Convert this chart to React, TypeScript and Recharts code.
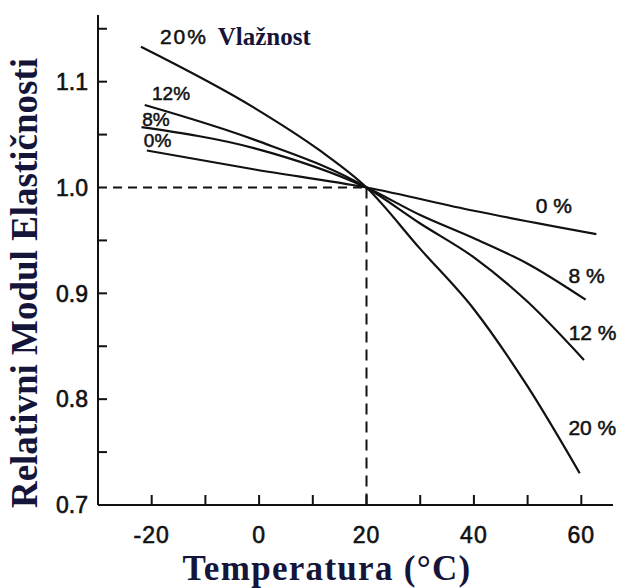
import React from 'react';
import { LineChart, Line, XAxis, YAxis, ReferenceLine, ReferenceDot } from 'recharts';

// Axis ticks
const xTicks = [-20, -10, 0, 10, 20, 30, 40, 50, 60];
const xTickLabels = [-20, 0, 20, 40, 60];
const yTicks = [0.7, 0.75, 0.8, 0.85, 0.9, 0.95, 1.0, 1.05, 1.1, 1.15];
const yTickLabels = [0.7, 0.8, 0.9, 1.0, 1.1];

// Relative modulus of elasticity vs temperature, per moisture content
const moisture0 = [
  { t: -20.9, e: 1.035 }, { t: -0.8, e: 1.017 }, { t: 20, e: 1.0 },
  { t: 40, e: 0.978 }, { t: 62.8, e: 0.956 },
];
const moisture8 = [
  { t: -21.9, e: 1.057 }, { t: -0.8, e: 1.037 }, { t: 20, e: 1.0 },
  { t: 30, e: 0.974 }, { t: 40, e: 0.952 }, { t: 50, e: 0.928 }, { t: 60.8, e: 0.894 },
];
const moisture12 = [
  { t: -21.3, e: 1.078 }, { t: -0.8, e: 1.045 }, { t: 20, e: 1.0 },
  { t: 30, e: 0.966 }, { t: 40, e: 0.934 }, { t: 50, e: 0.892 }, { t: 60.5, e: 0.837 },
];
const moisture20 = [
  { t: -22, e: 1.133 }, { t: -0.8, e: 1.075 }, { t: 11.3, e: 1.035 }, { t: 20, e: 1.0 },
  { t: 30, e: 0.942 }, { t: 40, e: 0.885 }, { t: 50, e: 0.812 }, { t: 59.7, e: 0.730 },
];

// Reference point (20 °C, 1.0)
const refT = 20;
const refE = 1.0;

const X_MIN = -30;
const X_MAX = 65.9;
const Y_MIN = 0.7;
const Y_MAX = 1.163;

const INK = '#111111';
const TITLE = '#15153a';
const SANS = '"Liberation Sans", Arial, sans-serif';
const SERIF = '"Liberation Serif", "Times New Roman", serif';

const XTick = (props: any) => {
  const { x, y, payload } = props;
  const v = payload.value;
  const px = Number(x);
  const py = Number(y);
  const labeled = xTickLabels.includes(v);
  return (
    <g className="xtick">
      <path d={`M${px},${py}L${px},${py - 10}`} stroke={INK} strokeWidth={2} fill="none" />
      {labeled ? (
        <text x={px} y={py + 38} textAnchor="middle" fontFamily={SANS} fontSize={23}
          fill={INK} stroke={INK} strokeWidth={0.6} letterSpacing={1}>
          {v}
        </text>
      ) : null}
    </g>
  );
};

const YTick = (props: any) => {
  const { x, y, payload } = props;
  const v = payload.value;
  const px = Number(x);
  const py = Number(y);
  const labeled = yTickLabels.some((l) => Math.abs(l - v) < 1e-6);
  return (
    <g className="ytick">
      <path d={`M${px},${py}L${px + 9},${py}`} stroke={INK} strokeWidth={2} fill="none" />
      {labeled ? (
        <text x={px - 10} y={py} dy="0.36em" textAnchor="end" fontFamily={SANS} fontSize={23}
          fill={INK} stroke={INK} strokeWidth={0.6}>
          {v.toFixed(1)}
        </text>
      ) : null}
    </g>
  );
};

const txt = (text: string, size: number, opts: any = {}) => (p: any) => {
  const vb = p.viewBox || {};
  const cx = vb.x + (vb.width || 0) / 2;
  const cy = vb.y + (vb.height || 0) / 2;
  return (
    <text x={cx} y={cy} dy="0.36em" textAnchor={opts.anchor || 'middle'} fontFamily={opts.font || SANS}
      fontSize={size} fontWeight={opts.weight || 'normal'} fill={opts.fill || INK}
      stroke={opts.stroke === undefined ? INK : opts.stroke} strokeWidth={opts.sw === undefined ? 0.5 : opts.sw}
      letterSpacing={opts.ls || 0}>
      {text}
    </text>
  );
};

const XTitle = () => (
  <text x={327} y={580} textAnchor="middle" fontFamily={SERIF} fontWeight="bold" fontSize={35}
    letterSpacing={1.3} fill={TITLE}>
    Temperatura (°C)
  </text>
);

const YTitle = () => (
  <text transform="translate(37,283) rotate(-90)" textAnchor="middle" fontFamily={SERIF}
    fontWeight="bold" fontSize={37} fill={TITLE}>
    Relativni Modul Elastičnosti
  </text>
);

const dot = { r: 1, fill: 'none', stroke: 'none' } as any;

export default function App() {
  return (
    <div style={{ position: 'absolute', left: 0, top: 0, width: 622, height: 588, background: '#fff' }}>
      <LineChart width={622} height={588} margin={{ top: 15, right: 9, left: 0, bottom: 0 }}>
        <XAxis type="number" dataKey="t" domain={[X_MIN, X_MAX]} ticks={xTicks} interval={0}
          allowDataOverflow tickSize={0} tickMargin={0} tick={<XTick />} tickLine={false}
          axisLine={{ stroke: INK, strokeWidth: 2 }} height={83} label={{ content: XTitle }} />
        <YAxis type="number" dataKey="e" domain={[Y_MIN, Y_MAX]} ticks={yTicks} interval={0}
          allowDataOverflow tickSize={0} tickMargin={0} tick={<YTick />} tickLine={false}
          axisLine={{ stroke: INK, strokeWidth: 2 }} width={98} label={{ content: YTitle }} />

        <ReferenceLine segment={[{ x: -27.2, y: refE }, { x: refT, y: refE }]} stroke={INK}
          strokeWidth={2} strokeDasharray="9 6" />
        <ReferenceLine segment={[{ x: refT, y: refE }, { x: refT, y: Y_MIN }]} stroke={INK}
          strokeWidth={2} strokeDasharray="11 7" />

        <Line data={moisture0} dataKey="e" type="monotone" stroke={INK} strokeWidth={2.2} dot={false} isAnimationActive={false} />
        <Line data={moisture8} dataKey="e" type="monotone" stroke={INK} strokeWidth={2.2} dot={false} isAnimationActive={false} />
        <Line data={moisture12} dataKey="e" type="monotone" stroke={INK} strokeWidth={2.2} dot={false} isAnimationActive={false} />
        <Line data={moisture20} dataKey="e" type="monotone" stroke={INK} strokeWidth={2.2} dot={false} isAnimationActive={false} />

        <ReferenceDot x={-14} y={1.143} {...dot} label={{ content: txt('20%', 21, { ls: 2 }) }} />
        <ReferenceDot x={-7.7} y={1.143} {...dot}
          label={{ content: txt('Vlažnost', 25, { anchor: 'start', font: SERIF, weight: 'bold', fill: TITLE, stroke: 'none', sw: 0 }) }} />
        <ReferenceDot x={-16.4} y={1.0887} {...dot} label={{ content: txt('12%', 19) }} />
        <ReferenceDot x={-19.2} y={1.0646} {...dot} label={{ content: txt('8%', 19) }} />
        <ReferenceDot x={-18.9} y={1.0443} {...dot} label={{ content: txt('0%', 19) }} />

        <ReferenceDot x={54.9} y={0.983} {...dot} label={{ content: txt('0 %', 21) }} />
        <ReferenceDot x={61.0} y={0.917} {...dot} label={{ content: txt('8 %', 21) }} />
        <ReferenceDot x={62.1} y={0.8627} {...dot} label={{ content: txt('12 %', 21) }} />
        <ReferenceDot x={62.05} y={0.7736} {...dot} label={{ content: txt('20 %', 21) }} />
      </LineChart>
    </div>
  );
}
